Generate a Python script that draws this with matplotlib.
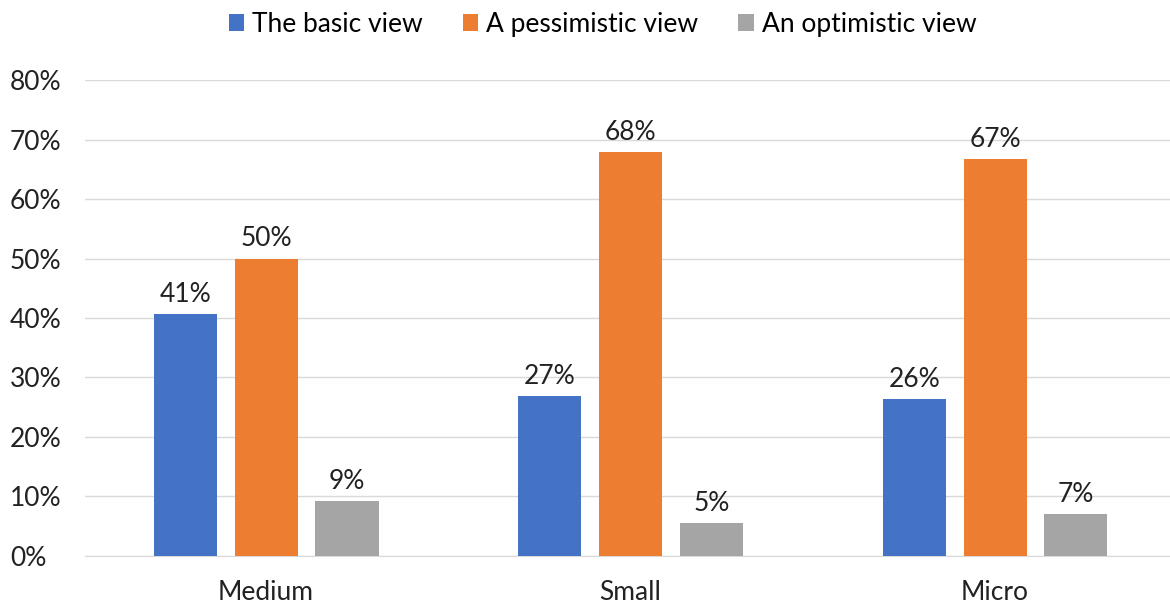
import matplotlib.pyplot as plt
import numpy as np

plt.rcParams['font.family'] = ['Lato', 'DejaVu Sans']

categories = ['Medium', 'Small', 'Micro']
series_names = ['The basic view', 'A pessimistic view', 'An optimistic view']
basic = [0.407, 0.269, 0.264]
pessimistic = [0.500, 0.679, 0.667]
optimistic = [0.093, 0.055, 0.070]
labels_basic = ['41%', '27%', '26%']
labels_pess = ['50%', '68%', '67%']
labels_opt = ['9%', '5%', '7%']
colors = ['#4472C4', '#ED7D31', '#A5A5A5']

fig = plt.figure(figsize=(11.7, 6.04), dpi=100)
ax = fig.add_axes([0.0726, 0.0795, 0.9274, 0.788])

x = np.arange(len(categories))
w = 0.173
off = 0.222
data = [basic, pessimistic, optimistic]
labs = [labels_basic, labels_pess, labels_opt]
for i, (vals, lab) in enumerate(zip(data, labs)):
    bars = ax.bar(x + (i - 1) * off, vals, w, color=colors[i], label=series_names[i], zorder=3)
    for b, t in zip(bars, lab):
        ax.text(b.get_x() + b.get_width() / 2, b.get_height() + 0.012, t,
                ha='center', va='bottom', fontsize=19, color='#222222')

ax.set_ylim(0, 0.8)
ax.set_xlim(-0.497, 2.48)
ax.set_yticks(np.arange(0, 0.81, 0.1))
ax.set_yticklabels([f'{int(round(v * 100))}%' for v in np.arange(0, 0.81, 0.1)])
ax.set_xticks(x)
ax.set_xticklabels(categories)
ax.tick_params(axis='both', length=0, labelsize=19, colors='#222222')
ax.tick_params(axis='y', pad=54)
ax.tick_params(axis='x', pad=17)
ax.grid(axis='y', color='#D9D9D9', lw=1, zorder=0)
for s in ['top', 'right', 'left']:
    ax.spines[s].set_visible(False)
ax.spines['bottom'].set_color('#D9D9D9')
for lbl in ax.get_yticklabels():
    lbl.set_horizontalalignment('left')

fig.legend(loc='upper center', bbox_to_anchor=(0.515, 1.02), ncol=3, frameon=False,
           fontsize=19, handlelength=0.6, handleheight=0.6, handletextpad=0.3,
           columnspacing=1.5)

plt.savefig('out.png')
